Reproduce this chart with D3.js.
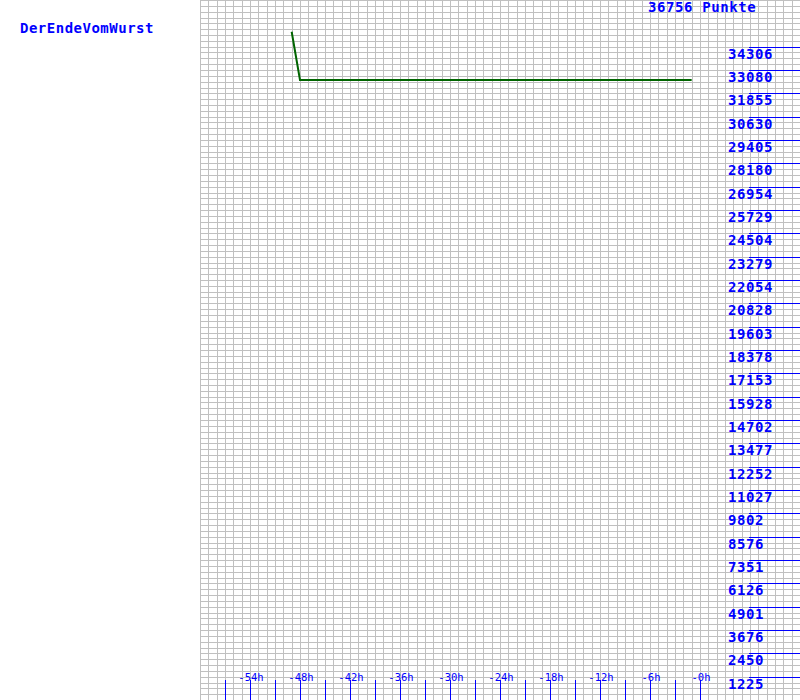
<!DOCTYPE html>
<html>
<head>
<meta charset="utf-8">
<script src="https://cdn.jsdelivr.net/npm/d3@7"></script>
<style>
  html, body { margin: 0; padding: 0; background: #fff; }
  svg { display: block; }
  text { font-family: "DejaVu Sans Mono", monospace; fill: #0000ff; }
</style>
</head>
<body>
<svg id="chart" width="800" height="700"></svg>
<script>
// ---- data ----
const playerName = "DerEndeVomWurst";
const totalLabel = "36756 Punkte";
const yMax = 36756;
const hours = [-49, -48, -1];
const points = [35090, 32560, 32560];
const yTickValues = [1225, 2450, 3676, 4901, 6126, 7351, 8576, 9802, 11027, 12252, 13477, 14702, 15928, 17153, 18378, 19603, 20828, 22054, 23279, 24504, 25729, 26954, 28180, 29405, 30630, 31855, 33080, 34306];
const xTickLabels = ["-54h", "-48h", "-42h", "-36h", "-30h", "-24h", "-18h", "-12h", "-6h", "-0h"];
const xLabelHours = [-54, -48, -42, -36, -30, -24, -18, -12, -6, 0];
const xTickHours = [-57, -54, -51, -48, -45, -42, -39, -36, -33, -30, -27, -24, -21, -18, -15, -12, -9, -6, -3, 0];

// ---- scales ----
const x = d3.scaleLinear().domain([-60, 12]).range([200, 800]);
const y = d3.scaleLinear().domain([0, yMax]).range([700, 0]);

const svg = d3.select("#chart");
const px = v => Math.round(v) + 0.5;

// grid
const grid = svg.append("g").attr("shape-rendering", "crispEdges");
grid.selectAll("line.v").data(d3.range(-60, 13, 1)).join("line")
  .attr("class", "v")
  .attr("x1", d => px(x(d))).attr("x2", d => px(x(d)))
  .attr("y1", 0).attr("y2", 700)
  .style("stroke", "#c0c0c0").style("stroke-width", "1px");
grid.selectAll("line.h").data(d3.range(0, 121, 1).map(k => k * yMax / 120)).join("line")
  .attr("class", "h")
  .attr("x1", 200).attr("x2", 800)
  .attr("y1", d => px(y(d))).attr("y2", d => px(y(d)))
  .style("stroke", "#c0c0c0").style("stroke-width", "1px");

// right value lines and labels
const ry = svg.append("g");
ry.selectAll("line").data(yTickValues).join("line")
  .attr("x1", 749).attr("x2", 800)
  .attr("y1", d => px(y(d))).attr("y2", d => px(y(d)))
  .style("stroke", "#0000ff").style("stroke-width", "1px")
  .attr("shape-rendering", "crispEdges");
ry.selectAll("text").data(yTickValues).join("text")
  .attr("x", 728).attr("y", d => Math.round(y(d)) + 12)
  .attr("font-size", 14).attr("font-weight", "bold").attr("letter-spacing", 0.6)
  .text(d => d);

// bottom ticks
const bx = svg.append("g");
bx.selectAll("line").data(xTickHours).join("line")
  .attr("x1", d => px(x(d))).attr("x2", d => px(x(d)))
  .attr("y1", 680).attr("y2", 700)
  .style("stroke", "#0000ff").style("stroke-width", "1px")
  .attr("shape-rendering", "crispEdges");
bx.selectAll("text").data(xLabelHours).join("text")
  .attr("x", d => x(d) + 1).attr("y", 681)
  .attr("text-anchor", "middle").attr("font-size", 10.5)
  .text((d, i) => xTickLabels[i]);

// score line
const line = d3.line().x((d, i) => x(hours[i])).y(d => y(d));
svg.append("path").datum(points)
  .attr("d", line)
  .attr("fill", "none").attr("stroke", "#006400").attr("stroke-width", 2);

// texts
svg.append("text").attr("x", 20).attr("y", 33)
  .attr("font-size", 14).attr("font-weight", "bold").attr("letter-spacing", 0.5)
  .text(playerName);
svg.append("text").attr("x", 648).attr("y", 12)
  .attr("font-size", 14).attr("font-weight", "bold").attr("letter-spacing", 0.6)
  .text(totalLabel);
</script>
</body>
</html>
